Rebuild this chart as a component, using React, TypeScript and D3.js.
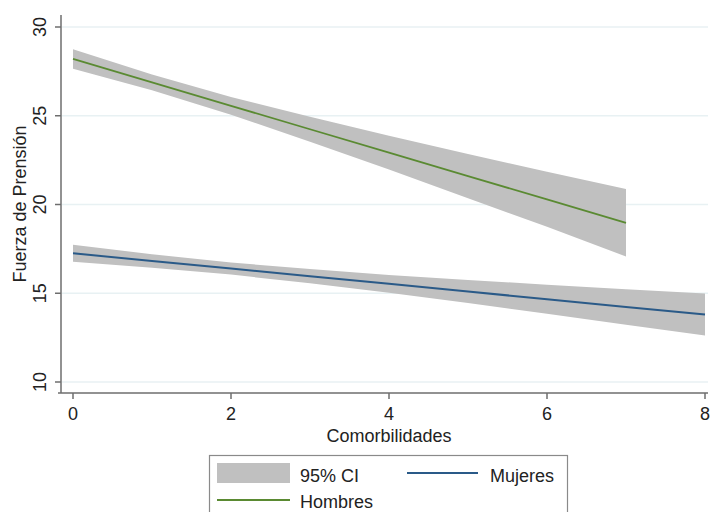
import React from "react";
import * as d3 from "d3";

const xValues = [0, 1, 2, 3, 4, 5, 6, 7, 8];
const hombresFit = [28.2, 26.88, 25.56, 24.24, 22.92, 21.6, 20.29, 18.97];
const hombresHalf = [0.55, 0.45, 0.5, 0.7, 0.95, 1.25, 1.55, 1.9];
const mujeresFit = [17.25, 16.82, 16.39, 15.96, 15.53, 15.1, 14.66, 14.23, 13.8];
const mujeresHalf = [0.48, 0.38, 0.34, 0.4, 0.5, 0.65, 0.82, 1.0, 1.18];
const yTicks = [10, 15, 20, 25, 30];
const xTicks = [0, 2, 4, 6, 8];

const W = 710;
const H = 512;
const FONT = "'Liberation Sans', Arial, Helvetica, sans-serif";
const FS = 18;

export default function App() {
  const x = d3.scaleLinear().domain([0, 8]).range([73, 705]);
  const y = d3.scaleLinear().domain([10, 30]).range([382, 27]);

  const hom = hombresFit.map((v, i) => ({ x: xValues[i], v, lo: v - hombresHalf[i], hi: v + hombresHalf[i] }));
  const muj = mujeresFit.map((v, i) => ({ x: xValues[i], v, lo: v - mujeresHalf[i], hi: v + mujeresHalf[i] }));

  const area = d3
    .area<{ x: number; lo: number; hi: number }>()
    .x((d) => x(d.x))
    .y0((d) => y(d.lo))
    .y1((d) => y(d.hi));
  const line = d3
    .line<{ x: number; v: number }>()
    .x((d) => x(d.x))
    .y((d) => y(d.v));

  const axisColor = "#6e6e6e";

  return (
    <div style={{ position: "absolute", left: 0, top: 0 }}>
      <svg width={W} height={H} style={{ display: "block", background: "#fff" }} fontFamily={FONT}>
        {yTicks.map((t) => (
          <line key={"g" + t} x1={62} x2={708} y1={y(t)} y2={y(t)} stroke="#e8f1f3" strokeWidth={1.5} />
        ))}
        <path d={area(hom) || ""} fill="#c0c0c0" />
        <path d={area(muj) || ""} fill="#c0c0c0" />
        <path d={line(hom) || ""} fill="none" stroke="#5a8a32" strokeWidth={1.8} />
        <path d={line(muj) || ""} fill="none" stroke="#2a5a88" strokeWidth={2} />

        {/* Y axis */}
        <line x1={61} x2={61} y1={15} y2={393} stroke={axisColor} strokeWidth={1.5} />
        {yTicks.map((t) => (
          <g key={"y" + t}>
            <line x1={55} x2={61} y1={y(t)} y2={y(t)} stroke={axisColor} strokeWidth={1.5} />
            <text
              transform={`translate(46,${y(t)}) rotate(-90)`}
              textAnchor="middle"
              fontSize={FS}
              fill="#222"
            >
              {t}
            </text>
          </g>
        ))}
        <text transform={`translate(26,204) rotate(-90)`} textAnchor="middle" fontSize={FS} fill="#222">
          Fuerza de Prensión
        </text>

        {/* X axis */}
        <line x1={58} x2={708} y1={393} y2={393} stroke={axisColor} strokeWidth={1.5} />
        {xTicks.map((t) => (
          <g key={"x" + t}>
            <line x1={x(t)} x2={x(t)} y1={393} y2={399} stroke={axisColor} strokeWidth={1.5} />
            <text x={x(t)} y={420} textAnchor="middle" fontSize={FS} fill="#222">
              {t}
            </text>
          </g>
        ))}
        <text x={389} y={442} textAnchor="middle" fontSize={FS} fill="#222">
          Comorbilidades
        </text>

        {/* Legend */}
        <rect x={209.5} y={455.5} width={358} height={70} fill="#fff" stroke="#8a8a8a" strokeWidth={1.2} />
        <rect x={217} y={463} width={73} height={20} fill="#c0c0c0" />
        <text x={300} y={482} fontSize={FS} fill="#222">95% CI</text>
        <line x1={407} x2={478} y1={473} y2={473} stroke="#2a5a88" strokeWidth={2} />
        <text x={490} y={482} fontSize={FS} fill="#222">Mujeres</text>
        <line x1={217} x2={290} y1={500} y2={500} stroke="#5a8a32" strokeWidth={1.8} />
        <text x={300} y={508} fontSize={FS} fill="#222">Hombres</text>
      </svg>
    </div>
  );
}
